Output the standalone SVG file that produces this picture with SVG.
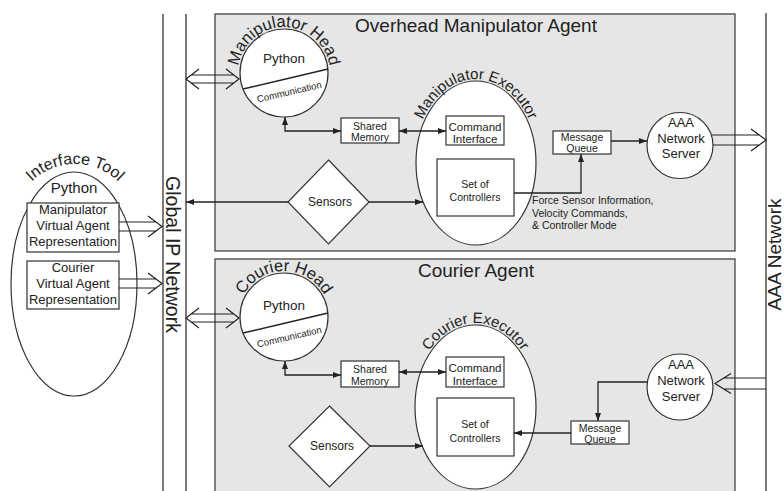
<svg xmlns="http://www.w3.org/2000/svg" width="784" height="491" viewBox="0 0 784 491">
  <style>
    .t { font-family: "Liberation Sans", Arial, sans-serif; fill: #222; }
    .mid { text-anchor: middle; }
    .agent { fill: #e6e6e6; stroke: #444; stroke-width: 1.3; }
    .node { fill: #fff; stroke: #333; stroke-width: 1.2; }
    .bar { fill: none; stroke: #222; stroke-width: 1.2; }
    .conn { fill: none; stroke: #222; stroke-width: 1.3; }
    .hollow { fill: none; stroke: #222; stroke-width: 1.2; }
    .div { stroke: #222; stroke-width: 1.4; }
  </style>
  <defs>
    <marker id="arr" viewBox="0 0 8 6" refX="8" refY="3" markerWidth="8" markerHeight="6" markerUnits="userSpaceOnUse" orient="auto-start-reverse">
      <path d="M0,0 L8,3 L0,6 z" fill="#222"/>
    </marker>
    <path id="arcMHead" d="M238,73 A46 46 0 0 1 330,73"/>
    <path id="arcCHead" d="M238,317 A46 46 0 0 1 330,317"/>
    <path id="arcMExec" d="M414,163 A62 84 0 0 1 538,163"/>
    <path id="arcCExec" d="M413.5,407 A62 84 0 0 1 537.5,407"/>
    <path id="arcTool" d="M13,226 A62 62 0 0 1 137,226"/>
  </defs>

  <rect width="784" height="491" fill="#fff"/>

  <!-- network backbones -->
  <g id="global-ip-network">
    <line class="bar" x1="163" y1="14" x2="163" y2="491"/>
    <line class="bar" x1="186" y1="14" x2="186" y2="491"/>
    <text class="t mid" x="166" y="254.5" font-size="19.5" transform="rotate(90 166 254.5)">Global IP Network</text>
  </g>
  <g id="aaa-network">
    <line class="bar" x1="766" y1="13" x2="766" y2="491"/>
    <text class="t mid" x="781" y="254.5" font-size="19" transform="rotate(-90 781 254.5)">AAA Network</text>
  </g>

  <!-- agent containers -->
  <g id="overhead-manipulator-agent">
    <rect class="agent" x="215" y="14" width="520" height="237"/>
    <text class="t mid" x="476" y="32" font-size="19">Overhead Manipulator Agent</text>
  </g>
  <g id="courier-agent">
    <rect class="agent" x="215" y="259" width="520" height="250"/>
    <text class="t mid" x="476" y="277" font-size="19">Courier Agent</text>
  </g>

  <!-- interface tool -->
  <g id="interface-tool">
    <ellipse class="node" cx="74" cy="284" rx="63" ry="112"/>
    <text class="t mid" font-size="16"><textPath href="#arcTool" startOffset="50%">Interface Tool</textPath></text>
    <text class="t mid" x="74" y="193" font-size="15">Python</text>
  </g>
  <g id="manipulator-virtual-agent">
    <rect class="node" x="27" y="203" width="92" height="49"/>
    <text class="t mid" x="73" y="214" font-size="13">Manipulator</text>
    <text class="t mid" x="73" y="230" font-size="13">Virtual Agent</text>
    <text class="t mid" x="73" y="246" font-size="13">Representation</text>
  </g>
  <g id="courier-virtual-agent">
    <rect class="node" x="27" y="261" width="92" height="48"/>
    <text class="t mid" x="73" y="272" font-size="13">Courier</text>
    <text class="t mid" x="73" y="288" font-size="13">Virtual Agent</text>
    <text class="t mid" x="73" y="304" font-size="13">Representation</text>
  </g>

  <!-- manipulator agent nodes -->
  <g id="manipulator-head">
    <circle class="node" cx="284" cy="73" r="44"/>
    <line class="div" x1="243" y1="89" x2="328" y2="69"/>
    <text class="t mid" font-size="16.5"><textPath href="#arcMHead" startOffset="50%">Manipulator Head</textPath></text>
    <text class="t mid" x="284" y="63" font-size="13.5">Python</text>
    <text class="t mid" x="290" y="95" font-size="9.5" transform="rotate(-13 290 95)">Communication</text>
  </g>
  <g id="manipulator-shared-memory">
    <rect class="node" x="341" y="118" width="58" height="25"/>
    <text class="t mid" x="370" y="129.5" font-size="10.5">Shared</text>
    <text class="t mid" x="370" y="141" font-size="10.5">Memory</text>
  </g>
  <g id="manipulator-sensors">
    <polygon class="node" points="328.5,160 369,202 328.5,244 288,202"/>
    <text class="t mid" x="330" y="206" font-size="12">Sensors</text>
  </g>
  <g id="manipulator-executor">
    <ellipse class="node" cx="476" cy="163" rx="60" ry="82"/>
    <text class="t mid" font-size="15"><textPath href="#arcMExec" startOffset="50%">Manipulator Executor</textPath></text>
  </g>
  <g id="manipulator-command-interface">
    <rect class="node" x="446" y="116" width="58" height="29"/>
    <text class="t mid" x="475" y="131" font-size="11.5">Command</text>
    <text class="t mid" x="475" y="143" font-size="11.5">Interface</text>
  </g>
  <g id="manipulator-controllers">
    <rect class="node" x="437" y="159" width="77" height="57"/>
    <text class="t mid" x="475" y="188" font-size="10.5">Set of</text>
    <text class="t mid" x="475" y="201" font-size="10.5">Controllers</text>
  </g>
  <g id="manipulator-message-queue">
    <rect class="node" x="553" y="131" width="58" height="23"/>
    <text class="t mid" x="582" y="141" font-size="10.5">Message</text>
    <text class="t mid" x="582" y="152" font-size="10.5">Queue</text>
  </g>
  <g id="manipulator-aaa-server">
    <circle class="node" cx="680" cy="145.5" r="33"/>
    <text class="t mid" x="681" y="127" font-size="13">AAA</text>
    <text class="t mid" x="681" y="142.5" font-size="13">Network</text>
    <text class="t mid" x="681" y="158" font-size="13">Server</text>
  </g>
  <g id="controller-data-note">
    <text class="t" x="532" y="204" font-size="10.5">Force Sensor Information,</text>
    <text class="t" x="532" y="216.5" font-size="10.5">Velocity Commands,</text>
    <text class="t" x="532" y="229" font-size="10.5">&amp; Controller Mode</text>
  </g>

  <!-- courier agent nodes -->
  <g id="courier-head">
    <circle class="node" cx="284" cy="317" r="44"/>
    <line class="div" x1="243" y1="333" x2="328" y2="313"/>
    <text class="t mid" font-size="16.5"><textPath href="#arcCHead" startOffset="50%">Courier Head</textPath></text>
    <text class="t mid" x="284" y="310" font-size="13.5">Python</text>
    <text class="t mid" x="290" y="340" font-size="9.5" transform="rotate(-13 290 340)">Communication</text>
  </g>
  <g id="courier-shared-memory">
    <rect class="node" x="341" y="361" width="58" height="26"/>
    <text class="t mid" x="370" y="372.5" font-size="10.5">Shared</text>
    <text class="t mid" x="370" y="384.5" font-size="10.5">Memory</text>
  </g>
  <g id="courier-sensors">
    <polygon class="node" points="329.5,406 370,446 329.5,487 289,446"/>
    <text class="t mid" x="332" y="450" font-size="12">Sensors</text>
  </g>
  <g id="courier-executor">
    <ellipse class="node" cx="475.5" cy="407" rx="60.5" ry="82"/>
    <text class="t mid" font-size="15"><textPath href="#arcCExec" startOffset="50%">Courier Executor</textPath></text>
  </g>
  <g id="courier-command-interface">
    <rect class="node" x="446" y="357" width="58" height="30"/>
    <text class="t mid" x="475" y="372" font-size="11.5">Command</text>
    <text class="t mid" x="475" y="384.5" font-size="11.5">Interface</text>
  </g>
  <g id="courier-controllers">
    <rect class="node" x="437" y="398" width="77" height="58"/>
    <text class="t mid" x="475" y="428" font-size="10.5">Set of</text>
    <text class="t mid" x="475" y="442" font-size="10.5">Controllers</text>
  </g>
  <g id="courier-message-queue">
    <rect class="node" x="571" y="421" width="58" height="23"/>
    <text class="t mid" x="600" y="432" font-size="10.5">Message</text>
    <text class="t mid" x="600" y="442.5" font-size="10.5">Queue</text>
  </g>
  <g id="courier-aaa-server">
    <circle class="node" cx="680" cy="387" r="33"/>
    <text class="t mid" x="681" y="369" font-size="13">AAA</text>
    <text class="t mid" x="681" y="385" font-size="13">Network</text>
    <text class="t mid" x="681" y="401" font-size="13">Server</text>
  </g>

  <!-- connectors -->
  <g id="connectors">
    <!-- manipulator agent -->
    <path class="conn" d="M285,117 V131 H341" marker-start="url(#arr)" marker-end="url(#arr)"/>
    <path class="conn" d="M399,131 H446" marker-start="url(#arr)" marker-end="url(#arr)"/>
    <path class="conn" d="M288,202 H186" marker-end="url(#arr)"/>
    <path class="conn" d="M369,202 H423" marker-end="url(#arr)"/>
    <path class="conn" d="M514,193 H581 V154" marker-end="url(#arr)"/>
    <path class="conn" d="M611,141 H647" marker-end="url(#arr)"/>
    <!-- courier agent -->
    <path class="conn" d="M285,361 V375 H341" marker-start="url(#arr)" marker-end="url(#arr)"/>
    <path class="conn" d="M399,372 H446" marker-start="url(#arr)" marker-end="url(#arr)"/>
    <path class="conn" d="M370,446 H423" marker-end="url(#arr)"/>
    <path class="conn" d="M647,382 H598 V421" marker-end="url(#arr)"/>
    <path class="conn" d="M571,433 H514" marker-end="url(#arr)"/>

    <!-- hollow network links -->
    <path class="hollow" d="M119,222 H156 M119,231 H156 M148,216 L162,226.5 L148,237"/>
    <path class="hollow" d="M119,279 H156 M119,288 H156 M148,273 L162,283.5 L148,294"/>
    <path class="hollow" d="M191,75 H234 M191,83 H234 M199,69 L186,79 L199,89 M226,69 L239,79 L226,89"/>
    <path class="hollow" d="M191,314 H234 M191,322 H234 M199,308 L186,318 L199,328 M226,308 L239,318 L226,328"/>
    <path class="hollow" d="M712,135 H760 M713,145 H760 M751,129 L766,140 L751,151"/>
    <path class="hollow" d="M724,378 H766 M724,389 H766 M731,373.5 L715,383.5 L731,393.5"/>
  </g>
</svg>
